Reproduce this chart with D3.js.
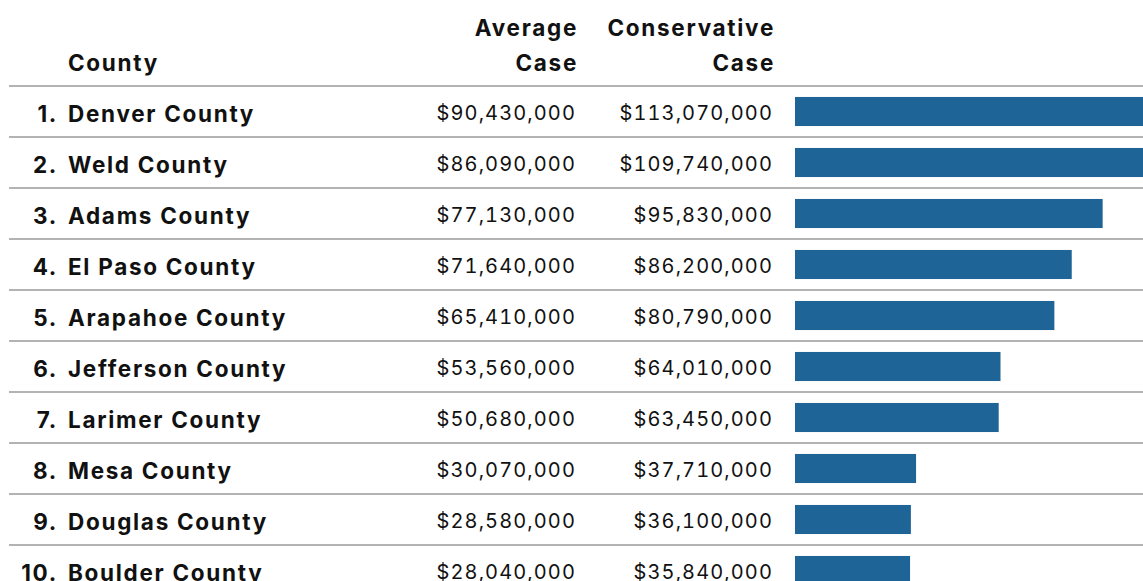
<!DOCTYPE html>
<html>
<head>
<meta charset="utf-8">
<script src="https://cdn.jsdelivr.net/npm/d3@7"></script>
<style>
  html, body { margin: 0; padding: 0; background: #fff; }
  svg { display: block; }
  .hdr, .name, .rank { font-family: Inter, "Noto Sans", sans-serif; font-weight: 700; font-size: 22.5px; fill: #111; letter-spacing: 1.7px; }
  .num { font-family: Inter, "Noto Sans", sans-serif; font-weight: 400; font-size: 20px; fill: #111; letter-spacing: 1.1px; font-variant-numeric: tabular-nums; }
</style>
</head>
<body>
<script>
const counties = ["Denver County", "Weld County", "Adams County", "El Paso County", "Arapahoe County",
  "Jefferson County", "Larimer County", "Mesa County", "Douglas County", "Boulder County"];
const averageCase = [90430000, 86090000, 77130000, 71640000, 65410000, 53560000, 50680000, 30070000, 28580000, 28040000];
const conservativeCase = [113070000, 109740000, 95830000, 86200000, 80790000, 64010000, 63450000, 37710000, 36100000, 35840000];
const headers = [["", "County"], ["Average", "Case"], ["Conservative", "Case"]];

const W = 1143, H = 581;
const svg = d3.select("body").append("svg").attr("width", W).attr("height", H);

const rows = counties.map((c, i) => ({ county: c, rank: i + 1, avg: averageCase[i], cons: conservativeCase[i] }));

const y = d3.scaleBand().domain(counties).range([86, 596]).paddingInner(0.43).paddingOuter(0.215);
const step = y.step();
const rowTop = c => y(c) - y.paddingOuter() * step;
const x = d3.scaleLinear().domain([0, d3.max(conservativeCase)]).range([795, 1158]);
const money = v => "$" + d3.format(",")(v);

// right-aligned columns add the trailing letter-spacing back in
const colX = { rank: 58, name: 68, avg: 576, cons: 773 };
const hdr = svg.append("g");
hdr.append("text").attr("class", "hdr").attr("x", colX.name).attr("y", 71).text(headers[0][1]);
[["avg", headers[1]], ["cons", headers[2]]].forEach(([k, h]) => {
  hdr.append("text").attr("class", "hdr").attr("x", colX[k] + 2).attr("y", 36).attr("text-anchor", "end").text(h[0]);
  hdr.append("text").attr("class", "hdr").attr("x", colX[k] + 2).attr("y", 71).attr("text-anchor", "end").text(h[1]);
});

// row separators
svg.append("g").selectAll("line").data(rows).join("line")
  .attr("x1", 9).attr("x2", W)
  .attr("y1", d => rowTop(d.county)).attr("y2", d => rowTop(d.county))
  .attr("stroke", "#b5b2b2").attr("stroke-width", 2);

const g = svg.append("g").selectAll("g").data(rows).join("g")
  .attr("transform", d => `translate(0,${rowTop(d.county) + step / 2})`);

g.append("text").attr("class", "rank").attr("x", colX.rank).attr("y", 10).attr("text-anchor", "end").text(d => d.rank + ".");
g.append("text").attr("class", "name").attr("x", colX.name).attr("y", 10).text(d => d.county);
g.append("text").attr("class", "num").attr("x", colX.avg).attr("y", 8).attr("text-anchor", "end").text(d => money(d.avg));
g.append("text").attr("class", "num").attr("x", colX.cons).attr("y", 8).attr("text-anchor", "end").text(d => money(d.cons));

// bars
svg.append("g").selectAll("rect").data(rows).join("rect")
  .attr("x", x(0)).attr("y", d => y(d.county))
  .attr("width", d => x(d.cons) - x(0)).attr("height", y.bandwidth())
  .attr("fill", "#1f6496");
</script>
</body>
</html>
